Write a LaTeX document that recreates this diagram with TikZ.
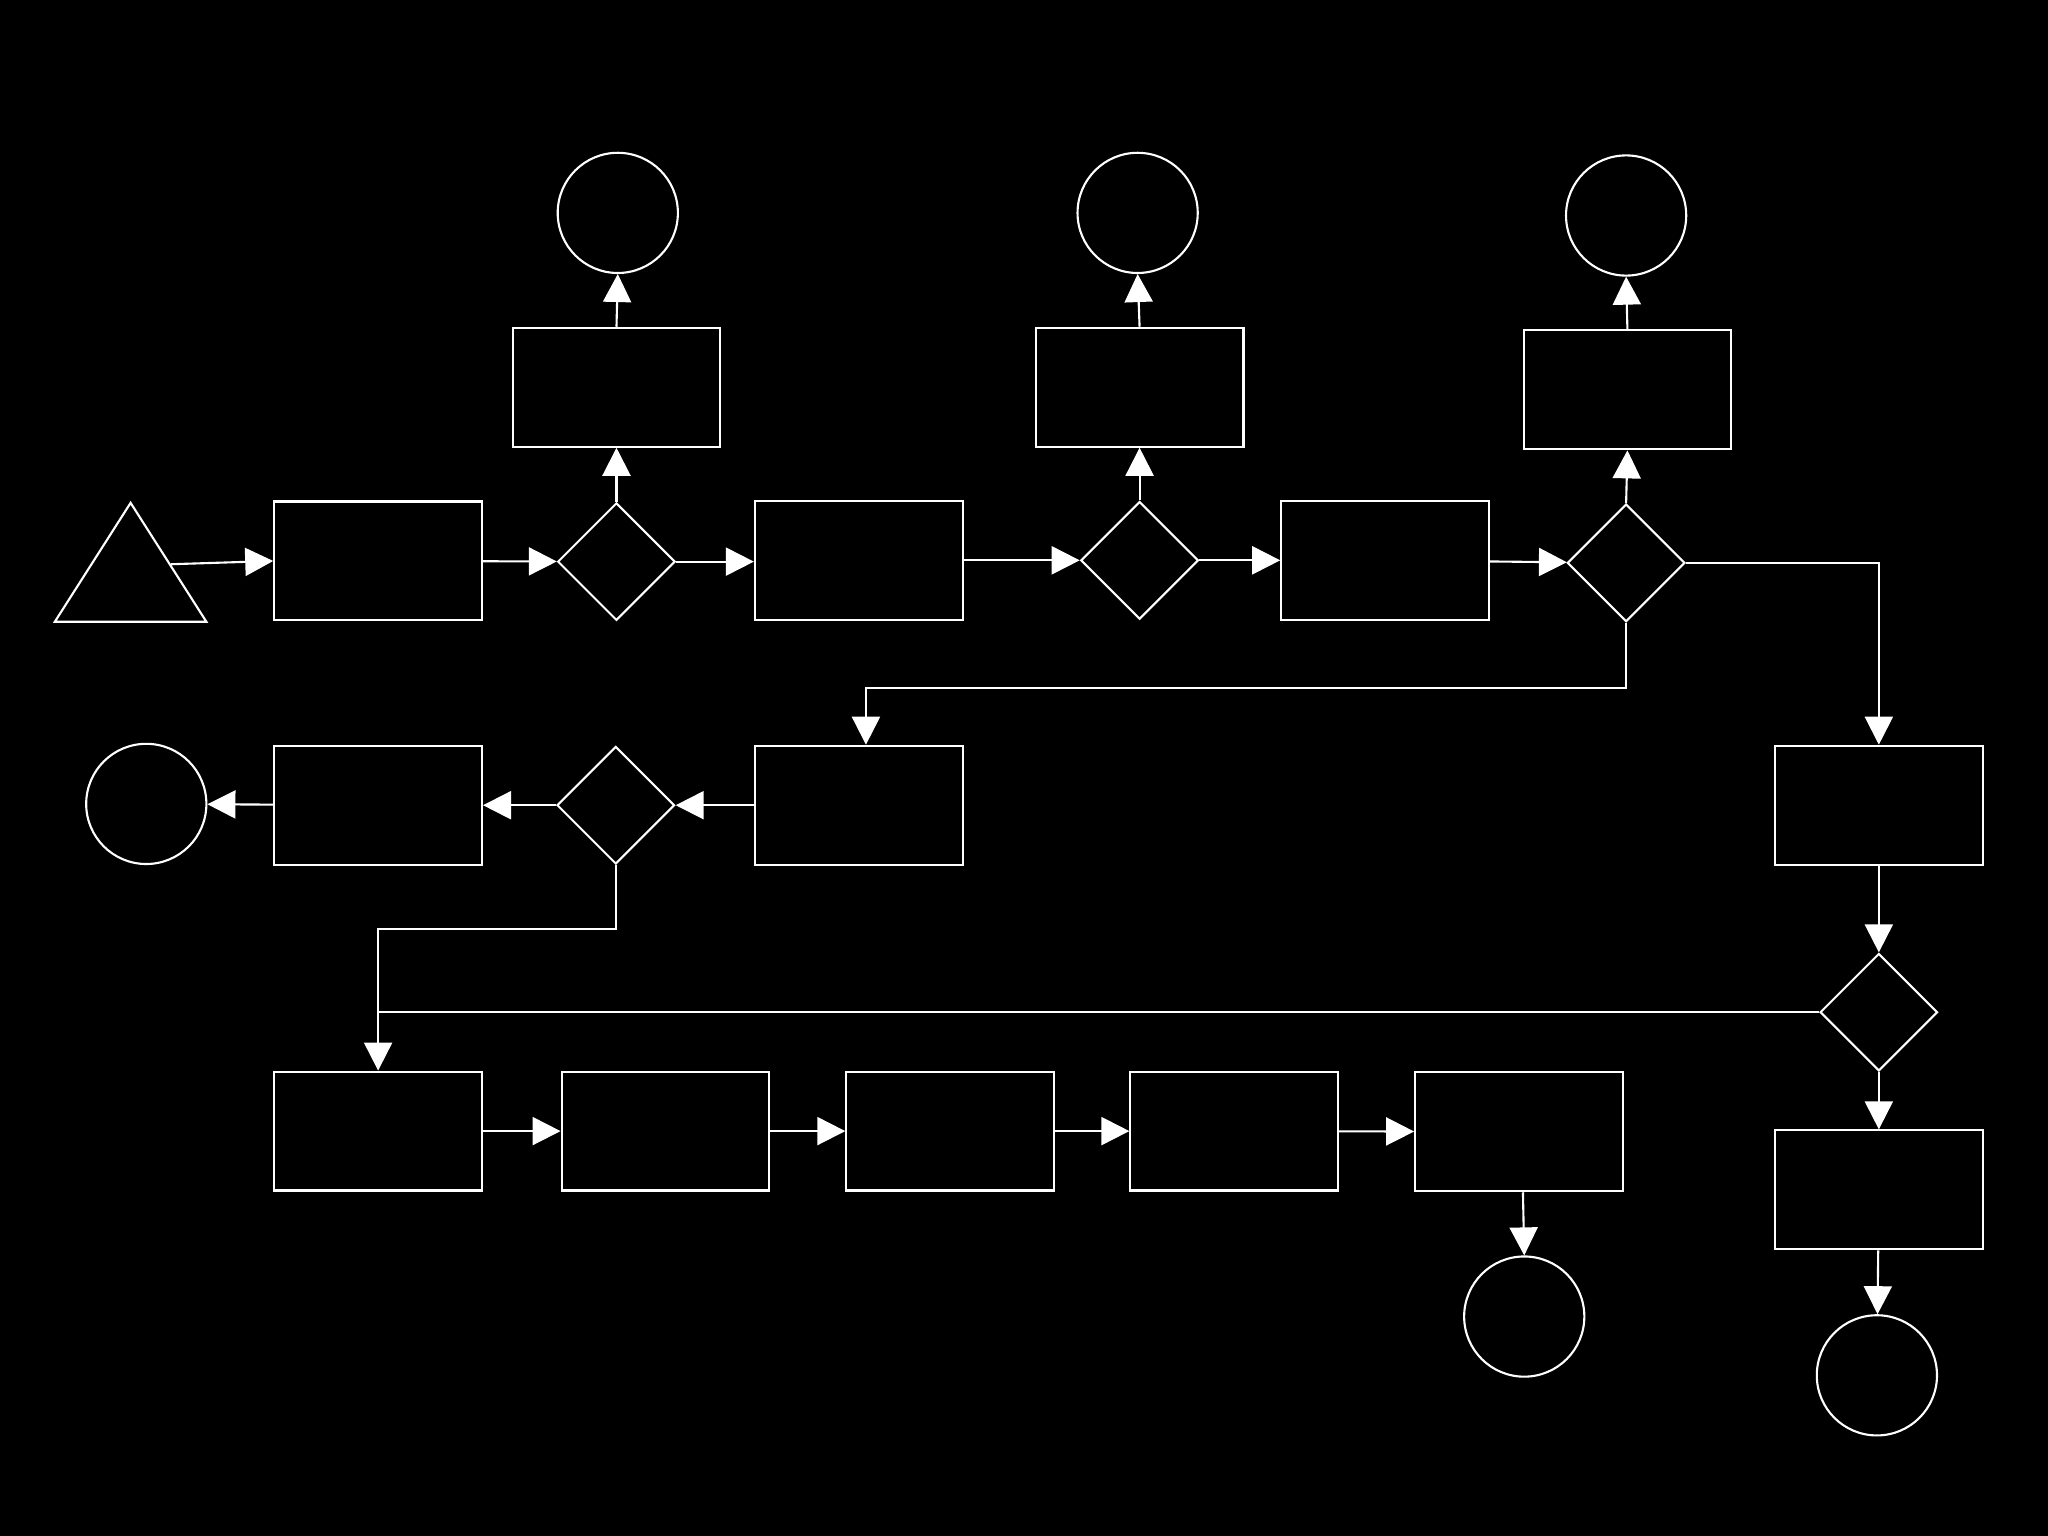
\documentclass[tikz,border=0pt]{standalone}
\usepackage{tikz}
\usetikzlibrary{
    arrows.meta,
    calc,
    shapes.geometric
}
\tikzset{
    process/.style={
        draw=white,
        line width=0.6pt,
        minimum width=20.77mm,
        minimum height=11.89mm,
        inner sep=0pt
    }
}
\tikzset{
    decision/.style={
        draw=white,
        diamond,
        aspect=1,
        line width=0.6pt,
        minimum size=11.76mm,
        inner sep=0pt
    }
}
\tikzset{
    terminal/.style={
        draw=white,
        circle,
        line width=0.6pt,
        minimum size=12.02mm,
        inner sep=0pt
    }
}
\tikzset{
    flow/.style={
        draw=white,
        line width=0.6pt,
        -{Triangle[length=2.8mm, width=2.8mm]}
    }
}
\tikzset{
    joinline/.style={
        draw=white,
        line width=0.6pt
    }
}

\begin{document}
\begin{tikzpicture}[
    x=0.13061mm,
    y=-0.13061mm
]

\fill[black] (0,0) rectangle (1568,1176);
\useasboundingbox (0,0) rectangle (1568,1176);

% ------------------------------------------------------------
% Start and first row
% ------------------------------------------------------------

\draw[joinline, line join=miter] (42,476) -- (100,385) -- (158,476) -- cycle;
\coordinate (start) at (131,432);

\node[process] (r1) at (289.5,429.5) {};
\node[decision] (d1) at (472,430) {};
\node[process] (r2) at (657.5,429) {};
\node[decision] (d2) at (872.5,429) {};
\node[process] (r3) at (1060.5,429) {};
\node[decision] (d3) at (1245,431) {};

% Branches above the first row
\node[process] (t1) at (472,296.5) {};
\node[terminal] (c1) at (473,163) {};
\node[process] (t2) at (872.5,296.5) {};
\node[terminal] (c2) at (871,163) {};
\node[process] (t3) at (1246,298.5) {};
\node[terminal] (c3) at (1245,165) {};

% ------------------------------------------------------------
% Second row
% ------------------------------------------------------------

\node[terminal] (c4) at (112,615.5) {};
\node[process] (r4) at (289.5,616.5) {};
\node[decision] (d4) at (471.5,616.5) {};
\node[process] (r5) at (657.5,616.5) {};

\node[process] (r6) at (1438.5,616.5) {};
\node[decision] (d5) at (1438.5,775) {};
\node[process] (r7) at (1438.5,911) {};
\node[terminal] (c5) at (1437,1053) {};

% ------------------------------------------------------------
% Third row
% ------------------------------------------------------------

\node[process] (r8) at (289.5,866) {};
\node[process] (r9) at (509.5,866) {};
\node[process] (r10) at (727.5,866) {};
\node[process] (r11) at (945,866) {};
\node[process] (r12) at (1163,866.5) {};
\node[terminal] (c6) at (1167,1008) {};

% ------------------------------------------------------------
% Connectors
% ------------------------------------------------------------

\draw[flow] (start) -- (r1.west);
\draw[flow] (r1) -- (d1);
\draw[flow] (d1.east) -- (r2.west |- d1.east);
\draw[flow] (r2) -- (d2);
\draw[flow] (d2) -- (r3);
\draw[flow] (r3) -- (d3);

\foreach \d/\t/\c in {d1/t1/c1, d2/t2/c2, d3/t3/c3} {
    \draw[flow] (\d.north) -- (\t.south);
    \draw[flow] (\t.north) -- (\c.south);
}

\draw[flow] (d3.east) -- (d3.east -| r6.north) -- (r6.north);
\coordinate (r5in) at ($(r5.north)+(5.5,0)$);
\draw[flow] (d3.south) -- ++(0,50) -| (r5in);

\draw[flow] (r5) -- (d4);
\draw[flow] (d4) -- (r4);
\draw[flow] (r4) -- (c4);

\draw[flow] (d4.south) -- ++(0,49) -| (r8.north);
\draw[joinline] (d5.west) -- (d5.west -| r8.north);

\draw[flow] (r6) -- (d5);
\draw[flow] (d5) -- (r7);
\draw[flow] (r7) -- (c5);

\foreach \a/\b in {r8/r9, r9/r10, r10/r11, r11/r12} {
    \draw[flow] (\a) -- (\b);
}
\coordinate (r12out) at ($(r12.south)+(3,0)$);
\draw[flow] (r12out) -- (c6.north);

\end{tikzpicture}
\end{document}
